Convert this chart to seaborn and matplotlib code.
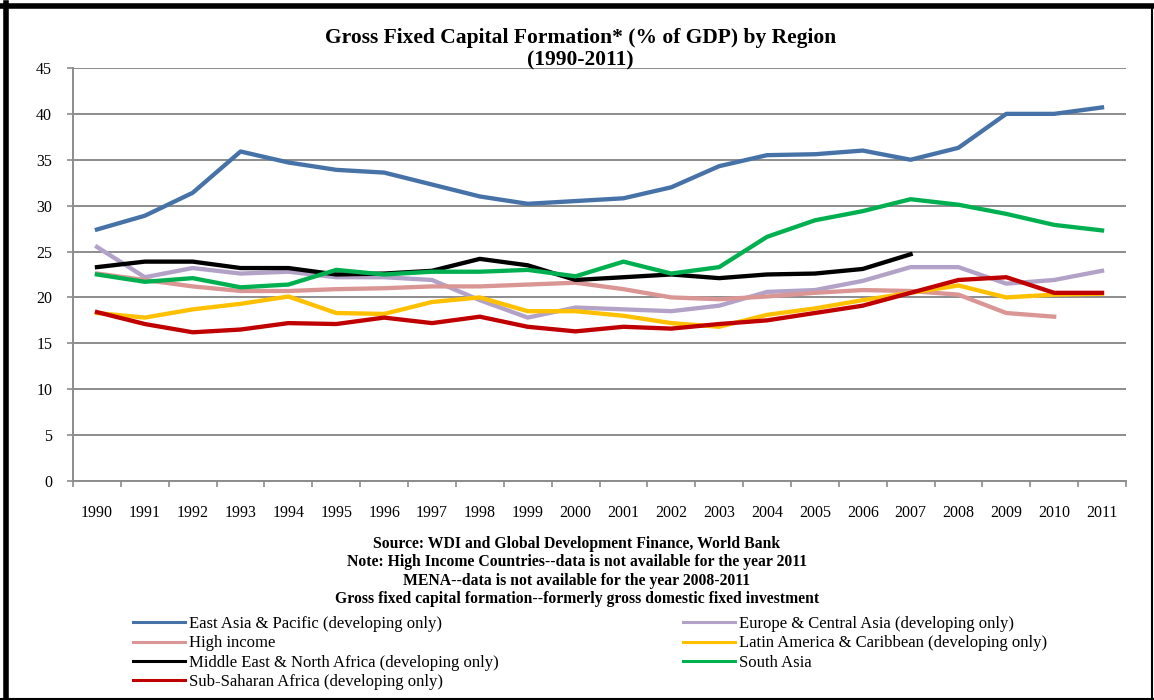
import numpy as np
import pandas as pd
import seaborn as sns
import matplotlib.pyplot as plt
from matplotlib.lines import Line2D
from matplotlib.ticker import FixedLocator

# Input data
years = list(range(1990, 2012))
east_asia = [27.4, 28.9, 31.4, 35.9, 34.7, 33.9, 33.6, 32.3, 31.0, 30.2, 30.5,
             30.8, 32.0, 34.3, 35.5, 35.6, 36.0, 35.0, 36.3, 40.0, 40.0, 40.7]
europe = [25.5, 22.2, 23.2, 22.6, 22.8, 22.2, 22.2, 21.9, 19.7, 17.8, 18.9,
          18.7, 18.5, 19.1, 20.6, 20.8, 21.8, 23.3, 23.3, 21.5, 21.9, 22.9]
high_income = [22.6, 21.9, 21.2, 20.7, 20.7, 20.9, 21.0, 21.2, 21.2, 21.4, 21.6,
               20.9, 20.0, 19.8, 20.1, 20.5, 20.8, 20.7, 20.3, 18.3, 17.9, np.nan]
latin = [18.3, 17.8, 18.7, 19.3, 20.1, 18.3, 18.2, 19.5, 20.0, 18.5, 18.5,
         18.0, 17.2, 16.8, 18.1, 18.8, 19.7, 20.5, 21.3, 20.0, 20.3, 20.4]
mena = [23.3, 23.9, 23.9, 23.2, 23.2, 22.5, 22.6, 22.9, 24.2, 23.5, 21.9,
        22.2, 22.5, 22.1, 22.5, 22.6, 23.1, 24.7, np.nan, np.nan, np.nan, np.nan]
south_asia = [22.5, 21.7, 22.1, 21.1, 21.4, 23.0, 22.5, 22.8, 22.8, 23.0, 22.3,
              23.9, 22.6, 23.3, 26.6, 28.4, 29.4, 30.7, 30.1, 29.1, 27.9, 27.3]
ssa = [18.4, 17.1, 16.2, 16.5, 17.2, 17.1, 17.8, 17.2, 17.9, 16.8, 16.3,
       16.8, 16.6, 17.1, 17.5, 18.3, 19.1, 20.5, 21.9, 22.2, 20.5, 20.5]

regions = ["East Asia & Pacific (developing only)",
           "Europe & Central Asia (developing only)",
           "High income",
           "Latin America & Caribbean (developing only)",
           "Middle East & North Africa (developing only)",
           "South Asia",
           "Sub-Saharan Africa (developing only)"]
series = [east_asia, europe, high_income, latin, mena, south_asia, ssa]
colors = ["#4672A8", "#B3A2C7", "#DA9694", "#FFC000", "#000000", "#00B050", "#C00000"]

df = pd.DataFrame({"Year": years})
for name, vals in zip(regions, series):
    df[name] = vals
df_long = pd.melt(df, id_vars="Year", var_name="Region", value_name="Value").dropna()

serif = ["Liberation Serif", "DejaVu Serif"]

fig = plt.figure(figsize=(11.54, 7), dpi=100)
ax = fig.add_axes([0.0633, 0.3129, 0.9124, 0.59])

sns.lineplot(data=df_long, x="Year", y="Value", hue="Region", hue_order=regions,
             palette=dict(zip(regions, colors)), linewidth=3.1, ax=ax, legend=False)

ax.set_xlim(1989.5, 2011.5)
ax.set_ylim(0, 45)
ax.set_yticks(range(0, 46, 5))
ax.set_xticks(years)
ax.xaxis.set_minor_locator(FixedLocator(np.arange(1989.5, 2012, 1)))
ax.tick_params(axis="x", which="major", length=0, pad=17)
ax.tick_params(axis="x", which="minor", length=4, color="#8c8c8c", width=1.2)
ax.tick_params(axis="y", length=4, color="#8c8c8c", width=1.2, pad=11)
for lab in ax.get_xticklabels() + ax.get_yticklabels():
    lab.set_family(serif)
    lab.set_fontsize(11.5)
ax.set_xlabel("")
ax.set_ylabel("")
ax.grid(axis="y", color="#8c8c8c", linewidth=1.4)
ax.set_axisbelow(True)
for side in ["top", "right"]:
    ax.spines[side].set_visible(False)
for side in ["left", "bottom"]:
    ax.spines[side].set_color("#8c8c8c")
    ax.spines[side].set_linewidth(1.4)

# Title
fig.text(0.503, 1 - 49 / 700, "Gross Fixed Capital Formation* (% of GDP) by Region\n(1990-2011)",
         ha="center", va="center", fontsize=15.5, fontweight="bold", family=serif,
         linespacing=1.2)

# Notes
notes = ["Source: WDI and Global Development Finance, World Bank",
         "Note: High Income Countries--data is not available for the year 2011",
         "MENA--data is not available for the year 2008-2011",
         "Gross fixed capital formation--formerly gross domestic fixed investment"]
for i, t in enumerate(notes):
    fig.text(0.5, 1 - (544 + 18.3 * i) / 700, t, ha="center", va="center",
             fontsize=11.3, fontweight="bold", family=serif)

# Legend: two columns placed separately
handles = [Line2D([], [], color=c, linewidth=2.2) for c in colors]
leg_kw = dict(loc="upper left", frameon=False, prop={"family": serif, "size": 12},
              handlelength=3.1, handletextpad=0.25, labelspacing=0.2,
              borderaxespad=0, borderpad=0)
col1 = [0, 2, 4, 6]
col2 = [1, 3, 5]
fig.legend([handles[i] for i in col1], [regions[i] for i in col1],
           bbox_to_anchor=(133 / 1154, 1 - 616 / 700), **leg_kw)
fig.legend([handles[i] for i in col2], [regions[i] for i in col2],
           bbox_to_anchor=(683 / 1154, 1 - 616 / 700), **leg_kw)

# Outer frame
fig.add_artist(Line2D([0.005, 0.005], [0, 0.996], transform=fig.transFigure, color="black", linewidth=4))
fig.add_artist(Line2D([0.0, 1.0], [0.992, 0.992], transform=fig.transFigure, color="black", linewidth=4))
fig.add_artist(Line2D([0.998, 0.998], [0, 0.99], transform=fig.transFigure, color="black", linewidth=1.5))
fig.add_artist(Line2D([0.0, 1.0], [0.002, 0.002], transform=fig.transFigure, color="black", linewidth=1.5))

fig.savefig("out.png", dpi=100)
